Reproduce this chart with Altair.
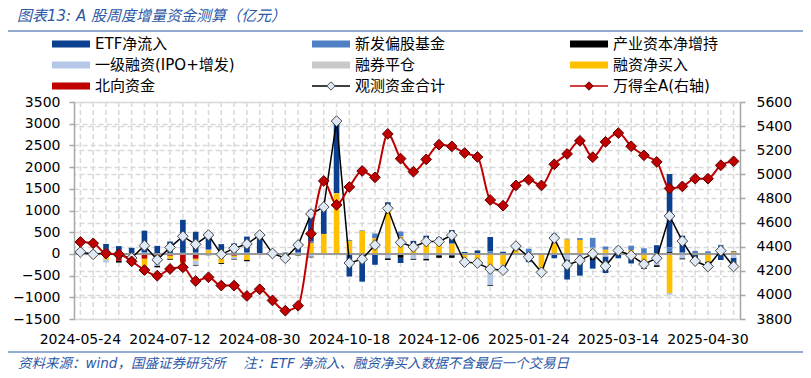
import altair as alt
import pandas as pd

# ---------------- data ----------------
dates = [
    "2024-05-24", "2024-05-31", "2024-06-07", "2024-06-14", "2024-06-21", "2024-06-28",
    "2024-07-05", "2024-07-12", "2024-07-19", "2024-07-26", "2024-08-02", "2024-08-09",
    "2024-08-16", "2024-08-23", "2024-08-30", "2024-09-06", "2024-09-13", "2024-09-20",
    "2024-09-27", "2024-09-30", "2024-10-11", "2024-10-18", "2024-10-25", "2024-11-01",
    "2024-11-08", "2024-11-15", "2024-11-22", "2024-11-29", "2024-12-06", "2024-12-13",
    "2024-12-20", "2024-12-27", "2025-01-03", "2025-01-10", "2025-01-17", "2025-01-24",
    "2025-01-27", "2025-02-07", "2025-02-14", "2025-02-21", "2025-02-28", "2025-03-07",
    "2025-03-14", "2025-03-21", "2025-03-28", "2025-04-03", "2025-04-11", "2025-04-18",
    "2025-04-25", "2025-04-30", "2025-05-09", "2025-05-16",
]
label_dates = ["2024-05-24", "2024-07-12", "2024-08-30", "2024-10-18",
               "2024-12-06", "2025-01-24", "2025-03-14", "2025-04-30"]

series_names = ["ETF净流入", "新发偏股基金", "产业资本净增持", "一级融资(IPO+增发)",
                "融券平仓", "融资净买入", "北向资金"]
series_colors = ["#0b3f8f", "#4f80c5", "#000000", "#b4c7e7", "#c9c9c9", "#ffc000", "#c00000"]
stack_rank = [6, 5, 4, 3, 2, 1, 0]
total_name = "观测资金合计"
index_name = "万得全A(右轴)"

etf = [40, 70, 230, 180, 140, 500, 185, 270, 760, 480,
       360, 210, 210, 370, 440, 20, 30, 200, 730, 640,
       1650, -520, -640, -230, 80, -120, 100, 100, 180, 300,
       30, 60, 330, 50, 40, -160, 0, -100, -460, -400,
       -200, -380, -100, -180, 0, 200, 1685, 380, -230, -120,
       -140, -230]
new_fund = [0, 0, 0, 0, 0, 35, 0, 15, 25, 30,
            30, 15, 30, 30, 20, 0, 0, 40, 40, 0,
            0, 20, 15, 110, 0, 115, 0, 20, 0, 20,
            15, 20, 60, 0, 50, 120, 20, 40, 20, 45,
            230, 75, 90, 100, 130, 0, 115, 40, 70, 60,
            120, 0]
industry = [0, 0, 0, -40, 0, 0, -40, -25, 0, -20,
            -30, -20, -20, -30, 0, 0, -30, -35, -20, -20,
            -20, 0, 0, -20, -40, -90, -25, -40, -60, -60,
            0, 0, -20, 0, -10, -30, 0, 0, 0, 0,
            -80, 0, 0, 0, -25, -40, 40, -25, 0, -40,
            0, 20]
ipo = [0, 0, -70, 0, -50, -50, -60, 0, -80, -100,
       0, 0, -40, 0, 0, 0, -40, 0, -60, 0,
       0, 0, 0, 0, -100, 0, -110, -110, -30, -30,
       -150, -80, -380, -175, 0, 0, 0, 0, -130, -100,
       -60, -60, 0, -40, -150, -260, -40, -100, 0, 0,
       0, -90]
short_cover = [0, 0, 0, 0, 0, 0, 0, 0, 0, 0,
               0, 0, 0, 0, 0, 0, 0, 0, 0, 0,
               0, 0, 0, 0, 0, 0, 0, 0, 0, 0,
               0, 0, 0, 0, 0, 0, 0, 0, 0, 0,
               140, 0, 40, 0, 0, 0, 0, 0, 0, 0,
               0, 0]
margin = [-20, -30, -130, 0, -70, -170, -150, -70, -100, -40,
          60, -140, -30, -140, -25, -10, -60, 0, 246, 460,
          1400, 300, 530, 360, 1110, 400, 200, 300, 200, 230,
          -85, -220, -340, -250, 90, 0, -440, 430, 330, 320,
          0, 95, 40, 90, -170, 0, -900, 0, 0, -175,
          90, 35]
north = [30, -50, 0, -160, -120, -110, -60, -40, -200, -110,
         20, -70, -40, 0, 0, 0, 0, 0, 0, 0,
         0, 0, 0, 0, 0, 0, 0, 0, 0, 0,
         0, 0, 0, 0, 0, 0, 0, 0, 0, 0,
         0, 0, 0, 0, 0, 0, 0, 0, 0, 0,
         0, 0]
total = [46, -10, 20, -20, -95, 190, -135, 150, 405, 220,
         435, -10, 128, 228, 435, 10, -100, 205, 920, 1080,
         3060, -210, -120, 205, 1050, 265, 160, 285, 285, 430,
         -190, -210, -350, -375, 180, -70, -425, 365, -255, -150,
         5, -280, 80, -35, -235, -100, 875, 295, -165, -290,
         75, -290]
wind_a = [4439, 4428, 4342, 4338, 4278, 4206, 4159, 4215, 4229, 4115,
          4146, 4077, 4077, 3991, 4047, 3954, 3869, 3910, 4507, 4945,
          4746, 4895, 5028, 4975, 5335, 5130, 5022, 5124, 5246, 5232,
          5177, 5144, 4787, 4740, 4908, 4955, 4908, 5083, 5169, 5278,
          5142, 5269, 5342, 5233, 5158, 5103, 4883, 4900, 4964, 4964,
          5075, 5108]

left_ticks = list(range(-1500, 3501, 500))
right_ticks = list(range(3800, 5601, 200))

title_text = "图表13: A 股周度增量资金测算（亿元）"
note_text = "资料来源：wind，国盛证券研究所\u3000\u00a0注：ETF 净流入、融资净买入数据不含最后一个交易日"

# ---------------- tables ----------------
series_values = [etf, new_fund, industry, ipo, short_cover, margin, north]
rows = []
for name, rank, vals in zip(series_names, stack_rank, series_values):
    for d, v in zip(dates, vals):
        if v != 0:
            rows.append({"date": d, "series": name, "rank": rank, "value": v})
bar_df = pd.DataFrame(rows)
line_df = pd.DataFrame({"date": dates, "total": total, "wind": wind_a})
zero_df = pd.DataFrame({"zero": [0]})
one = pd.DataFrame({"k": [0]})

# ---------------- layout constants ----------------
W, H = 666, 217
X0, Y0 = 74, 102          # page position of the plot area
FONT_NUM = "DejaVu Sans"
FONT_MIX = "DejaVu Sans, Noto Sans CJK SC"
BLUE = "#2b58a6"
GRID = "#d9d9d9"


def px(x):
    return x - X0


def py(y):
    return y - Y0


xscale = alt.Scale(domain=dates, paddingInner=0, paddingOuter=0)
xaxis = alt.Axis(values=label_dates, title=None, labelAngle=0, ticks=False, domain=False,
                 grid=False, labelPadding=13, labelFont=FONT_NUM, labelFontSize=14,
                 labelColor="#000000", labelOverlap=False)
X = alt.X("date:N", scale=xscale, axis=xaxis)

yl_scale = alt.Scale(domain=[-1500, 3500], nice=False, zero=False)
yl_axis = alt.Axis(values=left_ticks, format="d", title=None, orient="left", grid=True,
                   gridDash=[5, 3], gridColor=GRID, gridWidth=1.5, domainColor="#a6a6a6",
                   domainWidth=1.5, tickColor="#a6a6a6", tickSize=5, tickWidth=1.5,
                   labelFont=FONT_NUM, labelFontSize=14, labelColor="#000000", labelPadding=9)
yr_scale = alt.Scale(domain=[3800, 5600], nice=False, zero=False)
yr_axis = alt.Axis(values=right_ticks, format="d", title=None, orient="right", grid=True,
                   gridDash=[5, 3], gridColor=GRID, gridWidth=1.5, domainColor="#a6a6a6",
                   domainWidth=1.5, tickColor="#a6a6a6", tickSize=5, tickWidth=1.5,
                   labelFont=FONT_NUM, labelFontSize=14, labelColor="#000000", labelPadding=11)

vgrid = alt.Chart(line_df).mark_rule(color=GRID, strokeWidth=1.5, strokeDash=[5, 3]).encode(x=X)

bars = alt.Chart(bar_df).mark_bar(width=alt.RelativeBandSize(0.44)).encode(
    x=X,
    y=alt.Y("value:Q", stack="zero", scale=yl_scale, axis=yl_axis),
    color=alt.Color("series:N", scale=alt.Scale(domain=series_names, range=series_colors),
                    legend=None),
    order=alt.Order("rank:Q", sort="ascending"),
)

zero_line = alt.Chart(zero_df).mark_rule(color="#9a9a9a", strokeWidth=2).encode(
    y=alt.Y("zero:Q", scale=yl_scale, axis=yl_axis))

tot_line = alt.Chart(line_df).mark_line(color="#000000", strokeWidth=1.5).encode(
    x=X, y=alt.Y("total:Q", scale=yl_scale, axis=yl_axis))
tot_pts = alt.Chart(line_df).mark_point(shape="diamond", filled=True, fill="#dfe9f5",
                                        stroke="#4a4a4a", strokeWidth=1, size=115,
                                        opacity=1).encode(
    x=X, y=alt.Y("total:Q", scale=yl_scale, axis=yl_axis))

idx_line = alt.Chart(line_df).mark_line(color="#c00000", strokeWidth=2,
                                        interpolate="monotone").encode(
    x=X, y=alt.Y("wind:Q", scale=yr_scale, axis=yr_axis))
idx_pts = alt.Chart(line_df).mark_point(shape="diamond", filled=True, fill="#c00000",
                                        stroke="#5a0000", strokeWidth=1, size=115,
                                        opacity=1).encode(
    x=X, y=alt.Y("wind:Q", scale=yr_scale, axis=yr_axis))

left = alt.layer(vgrid, bars, zero_line, tot_line, tot_pts)
right = alt.layer(idx_line, idx_pts)

# ---------------- annotations (title, legend, note) ----------------
annots = []


def text_layer(s, x, y, size, color, style="normal"):
    return alt.Chart(one).mark_text(text=s, align="left", baseline="middle", fontSize=size,
                                    font=FONT_MIX, fontStyle=style, color=color).encode(
        x=alt.value(px(x)), y=alt.value(py(y)))


annots.append(text_layer(title_text, 17, 16, 15, BLUE, "italic"))
annots.append(alt.Chart(one).mark_rule(color=BLUE, strokeWidth=1.2).encode(
    x=alt.value(px(5)), x2=alt.value(px(806)), y=alt.value(py(31))))
annots.append(alt.Chart(one).mark_rule(color=BLUE, strokeWidth=1.2).encode(
    x=alt.value(px(5)), x2=alt.value(px(806)), y=alt.value(py(352))))
annots.append(text_layer(note_text, 18, 364, 13.5, BLUE, "italic"))

legend_names = series_names + [total_name, index_name]
col_x = [52, 312, 570]
row_y = [44, 65, 86]
for i, name in enumerate(legend_names):
    sx = col_x[i % 3]
    sy = row_y[i // 3]
    if i < len(series_names):
        annots.append(alt.Chart(one).mark_rect(color=series_colors[i]).encode(
            x=alt.value(px(sx)), x2=alt.value(px(sx + 38)),
            y=alt.value(py(sy - 3.5)), y2=alt.value(py(sy + 3.5))))
    else:
        if name == total_name:
            lc, fc, sc = "#000000", "#dfe9f5", "#4a4a4a"
        else:
            lc, fc, sc = "#c00000", "#c00000", "#5a0000"
        annots.append(alt.Chart(one).mark_rule(color=lc, strokeWidth=1.5).encode(
            x=alt.value(px(sx)), x2=alt.value(px(sx + 38)), y=alt.value(py(sy))))
        annots.append(alt.Chart(one).mark_point(shape="diamond", filled=True, fill=fc,
                                                stroke=sc, strokeWidth=1, size=70,
                                                opacity=1).encode(
            x=alt.value(px(sx + 19)), y=alt.value(py(sy))))
    annots.append(text_layer(name, sx + 43, sy, 15, "#000000"))

chart = alt.layer(left, right, *annots).resolve_scale(y="independent").properties(
    width=W, height=H,
    autosize=alt.AutoSizeParams(type="none"),
    padding={"left": 66, "top": 94, "right": 63, "bottom": 56},
).configure_view(stroke=None).configure(background="white")

chart.save("out.html", embed_options={"renderer": "svg", "actions": False})
